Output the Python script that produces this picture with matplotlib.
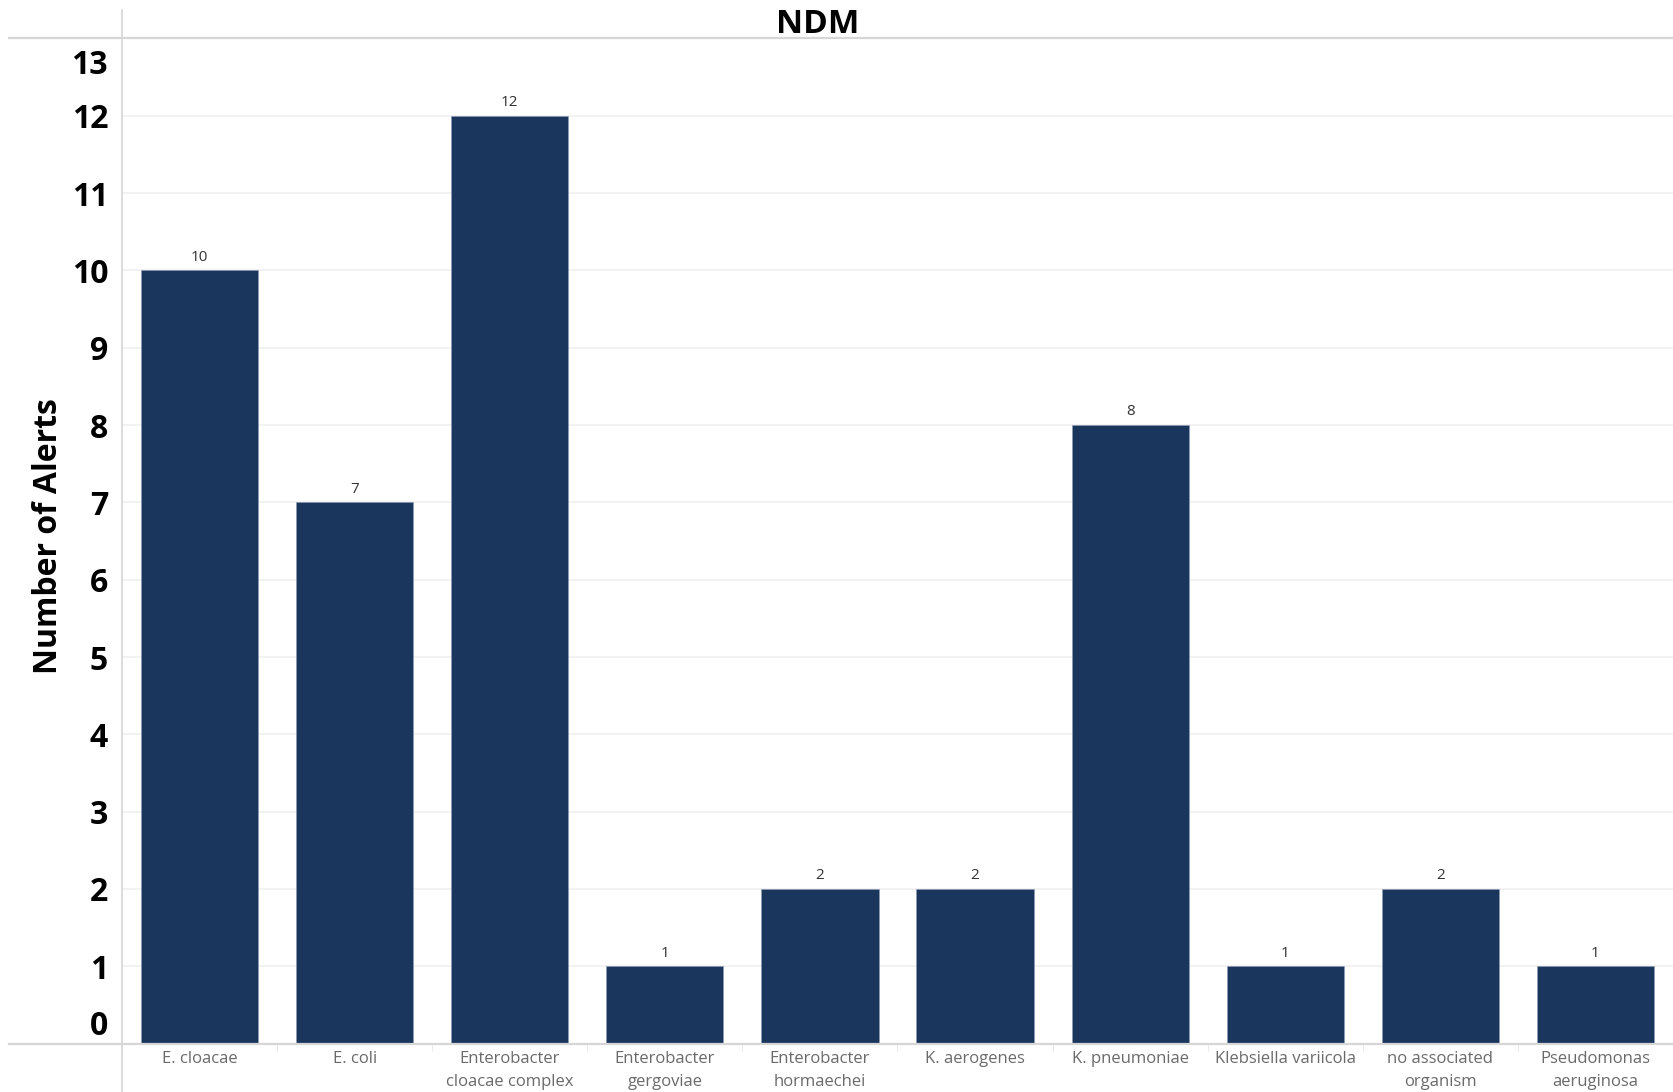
import matplotlib.pyplot as plt
from matplotlib.lines import Line2D
from matplotlib.transforms import ScaledTranslation
import numpy as np

plt.rcParams["font.family"] = ["Open Sans", "DejaVu Sans"]

organisms = [
    "E. cloacae", "E. coli", "Enterobacter\ncloacae complex",
    "Enterobacter\ngergoviae", "Enterobacter\nhormaechei", "K. aerogenes",
    "K. pneumoniae", "Klebsiella variicola", "no associated\norganism",
    "Pseudomonas\naeruginosa",
]
alerts = [10, 7, 12, 1, 2, 2, 8, 1, 2, 1]
y_ticks = list(range(0, 14))

bar_color = "#1b365d"
line_color = "#d6d6d6"

fig = plt.figure(figsize=(16.73, 10.92), dpi=100)
ax = fig.add_axes([0.0729, 0.0443, 0.9271, 0.9205])

x = np.arange(len(organisms))
bars = ax.bar(x, alerts, width=0.756, color=bar_color,
              edgecolor="#8a9bb3", linewidth=0.4, zorder=3)

for xi, v in zip(x, alerts):
    ax.annotate(str(v), (xi, v), xytext=(0, 4), textcoords="offset points",
                ha="center", va="bottom", fontsize=11, color="#333333")

ax.set_xlim(-0.5, len(organisms) - 0.5)
ax.set_ylim(0, 13)

ax.set_yticks(y_ticks)
ax.set_yticklabels([str(t) for t in y_ticks], fontsize=23, fontweight="bold")
ax.tick_params(axis="y", length=0, pad=10)

# end labels sit inward from the axis limits
labels = ax.get_yticklabels()
labels[0].set_transform(labels[0].get_transform()
                        + ScaledTranslation(0, 0.21, fig.dpi_scale_trans))
labels[-1].set_transform(labels[-1].get_transform()
                         + ScaledTranslation(0, -0.23, fig.dpi_scale_trans))

ax.set_xticks(x)
ax.set_xticklabels(organisms, fontsize=12, color="#6a6a6a", linespacing=1.6,
                   va="top")
ax.tick_params(axis="x", length=0, pad=5)
ax.set_xticks(np.arange(len(organisms) + 1) - 0.5, minor=True)
ax.tick_params(axis="x", which="minor", length=5, color="#e6e6e6")

ax.yaxis.grid(True, color="#f0f0f0", linewidth=1.2, zorder=0)
ax.set_axisbelow(True)
for s in ax.spines.values():
    s.set_visible(False)

ax.set_ylabel("Number of Alerts", fontsize=23, fontweight="bold")
ax.yaxis.set_label_coords(-0.037, 0.505)

fig.text(0.489, 0.978, "NDM", ha="center", va="center",
         fontsize=24, fontweight="bold")

# header / footer rules and the left divider
fig.add_artist(Line2D([0.0054, 1], [0.9652, 0.9652], color=line_color, lw=1.6,
                      transform=fig.transFigure))
fig.add_artist(Line2D([0.0054, 1], [0.0440, 0.0440], color=line_color, lw=1.6,
                      transform=fig.transFigure))
fig.add_artist(Line2D([0.0729, 0.0729], [0, 0.991], color=line_color, lw=1.2,
                      transform=fig.transFigure))

fig.savefig("out.png", dpi=100)
